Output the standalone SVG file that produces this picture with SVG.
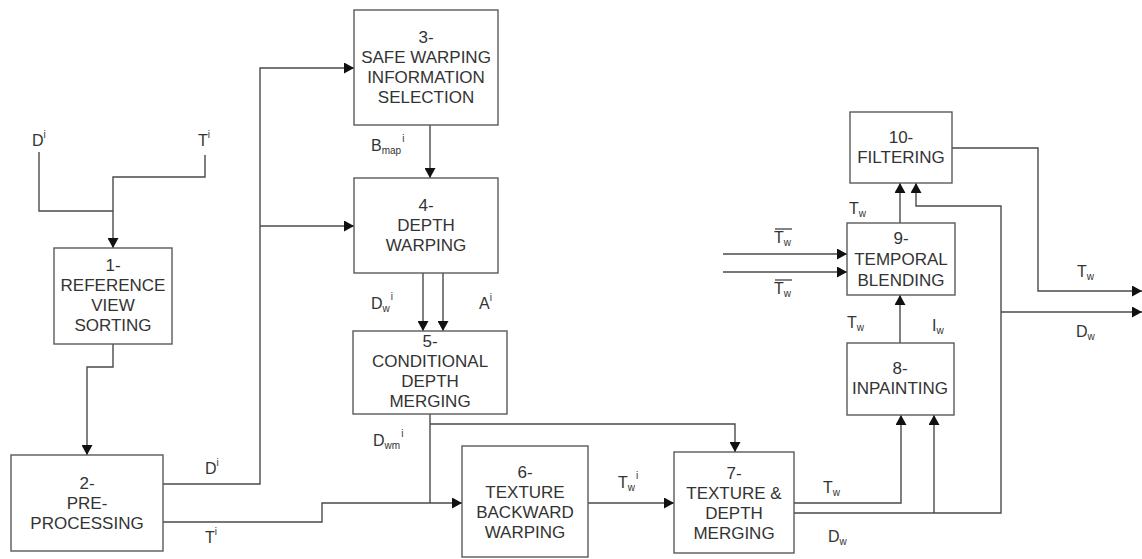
<svg xmlns="http://www.w3.org/2000/svg" width="1142" height="559" viewBox="0 0 1142 559">
<style>
.box{fill:#fff;stroke:#5a5a5a;stroke-width:1.4}
.t{font-family:"Liberation Sans",Arial,sans-serif;font-size:17px;fill:#333;text-anchor:middle}
.l{font-family:"Liberation Sans",Arial,sans-serif;font-size:16px;fill:#333}
.s{font-size:10px}
.c{fill:none;stroke:#4a4a4a;stroke-width:1.4}
.ov{stroke:#333;stroke-width:1.2}
</style>
<defs>
<marker id="ah" markerUnits="userSpaceOnUse" markerWidth="11" markerHeight="11" refX="10" refY="5.5" orient="auto">
<path d="M0,0 L10,5.5 L0,11 z" fill="#111"/>
</marker>
</defs>
<g id="connectors">
<path class="c" d="M39,152 V211 H113"/>
<path class="c" d="M205,155 V177 H113 V248" marker-end="url(#ah)"/>
<path class="c" d="M113,344 V367 H87 V455" marker-end="url(#ah)"/>
<path class="c" d="M163,484 H260 V68 H354" marker-end="url(#ah)"/>
<path class="c" d="M260,226 H354" marker-end="url(#ah)"/>
<path class="c" d="M163,522 H322 V503 H462" marker-end="url(#ah)"/>
<path class="c" d="M430,125 V178" marker-end="url(#ah)"/>
<path class="c" d="M423,273 V331" marker-end="url(#ah)"/>
<path class="c" d="M443,273 V331" marker-end="url(#ah)"/>
<path class="c" d="M430,414 V503"/>
<path class="c" d="M430,424 H735 V452" marker-end="url(#ah)"/>
<path class="c" d="M588,503 H674" marker-end="url(#ah)"/>
<path class="c" d="M794,503 H901 V415" marker-end="url(#ah)"/>
<path class="c" d="M794,513 H1001 V206 H916 V183" marker-end="url(#ah)"/>
<path class="c" d="M934,513 V415" marker-end="url(#ah)"/>
<path class="c" d="M1001,312 H1142" marker-end="url(#ah)"/>
<path class="c" d="M900,343 V295" marker-end="url(#ah)"/>
<path class="c" d="M900,223 V183" marker-end="url(#ah)"/>
<path class="c" d="M723,254 H847" marker-end="url(#ah)"/>
<path class="c" d="M723,272 H847" marker-end="url(#ah)"/>
<path class="c" d="M952,148 H1038 V291 H1142" marker-end="url(#ah)"/>
</g>
<g id="labels">
<text class="l" x="32" y="146">D<tspan class="s" dy="-8">i</tspan></text>
<text class="l" x="198" y="146">T<tspan class="s" dy="-8">i</tspan></text>
<text class="l" x="205" y="474">D<tspan class="s" dy="-8">i</tspan></text>
<text class="l" x="205" y="543">T<tspan class="s" dy="-8">i</tspan></text>
<text class="l" x="371" y="151">B<tspan class="s" dy="3">map</tspan><tspan class="s" dy="-12" dx="1">i</tspan></text>
<text class="l" x="371" y="309">D<tspan class="s" dy="3">w</tspan><tspan class="s" dy="-12" dx="1">i</tspan></text>
<text class="l" x="479" y="309">A<tspan class="s" dy="-8">i</tspan></text>
<text class="l" x="373" y="446">D<tspan class="s" dy="3">wm</tspan><tspan class="s" dy="-12" dx="1">i</tspan></text>
<text class="l" x="618" y="488">T<tspan class="s" dy="3">w</tspan><tspan class="s" dy="-12" dx="1">i</tspan></text>
<text class="l" x="823" y="493">T<tspan class="s" dy="3">w</tspan></text>
<text class="l" x="828" y="542">D<tspan class="s" dy="3">w</tspan></text>
<text class="l" x="849" y="214">T<tspan class="s" dy="3">w</tspan></text>
<text class="l" x="774" y="243">T<tspan class="s" dy="3">w</tspan></text>
<line class="ov" x1="775" y1="229" x2="792" y2="229"/>
<text class="l" x="774" y="294">T<tspan class="s" dy="3">w</tspan></text>
<line class="ov" x1="775" y1="280" x2="792" y2="280"/>
<text class="l" x="847" y="328">T<tspan class="s" dy="3">w</tspan></text>
<text class="l" x="932" y="331">I<tspan class="s" dy="3">w</tspan></text>
<text class="l" x="1077" y="277">T<tspan class="s" dy="3">w</tspan></text>
<text class="l" x="1076" y="337">D<tspan class="s" dy="3">w</tspan></text>
</g>
<g id="n1"><rect class="box" x="54" y="248" width="118" height="96"/>
<text class="t" x="113" y="271">1-</text><text class="t" x="113" y="291">REFERENCE</text><text class="t" x="113" y="311">VIEW</text><text class="t" x="113" y="331">SORTING</text></g>
<g id="n2"><rect class="box" x="11" y="455" width="152" height="96"/>
<text class="t" x="87" y="489">2-</text><text class="t" x="87" y="509">PRE-</text><text class="t" x="87" y="529">PROCESSING</text></g>
<g id="n3"><rect class="box" x="354" y="10" width="144" height="115"/>
<text class="t" x="426" y="43">3-</text><text class="t" x="426" y="63">SAFE WARPING</text><text class="t" x="426" y="83">INFORMATION</text><text class="t" x="426" y="103">SELECTION</text></g>
<g id="n4"><rect class="box" x="354" y="178" width="144" height="95"/>
<text class="t" x="426" y="211">4-</text><text class="t" x="426" y="231">DEPTH</text><text class="t" x="426" y="251">WARPING</text></g>
<g id="n5"><rect class="box" x="353" y="331" width="154" height="83"/>
<text class="t" x="430" y="347">5-</text><text class="t" x="430" y="367">CONDITIONAL</text><text class="t" x="430" y="387">DEPTH</text><text class="t" x="430" y="407">MERGING</text></g>
<g id="n6"><rect class="box" x="462" y="446" width="126" height="111"/>
<text class="t" x="525" y="478">6-</text><text class="t" x="525" y="498">TEXTURE</text><text class="t" x="525" y="518">BACKWARD</text><text class="t" x="525" y="538">WARPING</text></g>
<g id="n7"><rect class="box" x="674" y="452" width="120" height="101"/>
<text class="t" x="734" y="479">7-</text><text class="t" x="734" y="499">TEXTURE &amp;</text><text class="t" x="734" y="519">DEPTH</text><text class="t" x="734" y="539">MERGING</text></g>
<g id="n8"><rect class="box" x="847" y="343" width="107" height="72"/>
<text class="t" x="900" y="374">8-</text><text class="t" x="900" y="394">INPAINTING</text></g>
<g id="n9"><rect class="box" x="847" y="223" width="108" height="72"/>
<text class="t" x="901" y="244">9-</text><text class="t" x="901" y="265">TEMPORAL</text><text class="t" x="901" y="286">BLENDING</text></g>
<g id="n10"><rect class="box" x="850" y="112" width="102" height="71"/>
<text class="t" x="901" y="143">10-</text><text class="t" x="901" y="163">FILTERING</text></g>
</svg>
